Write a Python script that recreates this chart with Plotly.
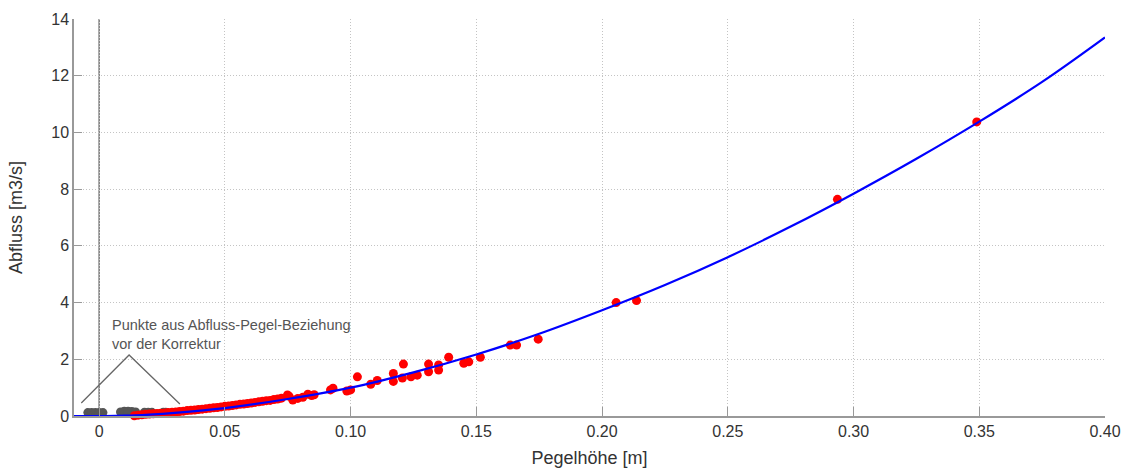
import plotly.graph_objects as go

# Fitted rating curve
curve_h = [-0.01, 0.0, 0.01, 0.02, 0.03, 0.05, 0.075, 0.10, 0.125, 0.15, 0.175, 0.20, 0.225, 0.25, 0.275, 0.30, 0.325, 0.35, 0.375, 0.40]
curve_q = [0.0, 0.0, 0.01, 0.05, 0.11, 0.28, 0.60, 1.00, 1.54, 2.17, 2.90, 3.73, 4.62, 5.60, 6.68, 7.84, 9.07, 10.38, 11.78, 13.35]

# Measured points (after correction)
red_h = [0.0140, 0.0155, 0.0170, 0.0185, 0.0200, 0.0215, 0.0230, 0.0245, 0.0260, 0.0275,
         0.0290, 0.0305, 0.0320, 0.0335, 0.0350, 0.0365, 0.0380, 0.0395, 0.0410, 0.0425,
         0.0440, 0.0455, 0.0470, 0.0485, 0.0500, 0.0515, 0.0530, 0.0545, 0.0560, 0.0575,
         0.0590, 0.0605, 0.0620, 0.0635, 0.0650, 0.0665, 0.0680, 0.0695, 0.0710, 0.0725,
         0.0749, 0.0755, 0.0770, 0.0790, 0.0810, 0.0830, 0.0845, 0.0855, 0.0920, 0.0930,
         0.0985, 0.1000, 0.1027, 0.1080, 0.1106, 0.1170, 0.1170, 0.1210, 0.1206, 0.1240,
         0.1265, 0.1310, 0.1310, 0.1350, 0.1350, 0.1390, 0.1450, 0.1470, 0.1516, 0.1635,
         0.1660, 0.1746, 0.2056, 0.2137, 0.2936, 0.3490]
red_q = [0.01, 0.03, 0.04, 0.06, 0.07, 0.08, 0.09, 0.10, 0.11, 0.12,
         0.13, 0.14, 0.16, 0.17, 0.19, 0.20, 0.21, 0.23, 0.24, 0.26,
         0.27, 0.29, 0.30, 0.32, 0.34, 0.35, 0.37, 0.39, 0.41, 0.42,
         0.44, 0.46, 0.48, 0.50, 0.52, 0.54, 0.55, 0.58, 0.60, 0.63,
         0.74, 0.70, 0.56, 0.62, 0.66, 0.77, 0.72, 0.75, 0.92, 0.98,
         0.88, 0.92, 1.38, 1.12, 1.25, 1.50, 1.22, 1.83, 1.34, 1.38,
         1.44, 1.83, 1.56, 1.80, 1.62, 2.07, 1.86, 1.91, 2.07, 2.50,
         2.50, 2.71, 4.00, 4.07, 7.64, 10.37]

# Points before correction
gray_h = [-0.0045, -0.0030, -0.0015, 0.0000, 0.0015, 0.0055, 0.0085, 0.0100, 0.0115, 0.0130, 0.0145, 0.0180, 0.0195, 0.0210, 0.0255, 0.0265]
gray_q = [0.12, 0.12, 0.12, 0.12, 0.12, -0.02, 0.14, 0.17, 0.17, 0.16, 0.14, 0.13, 0.13, 0.13, 0.13, 0.13]

x_ticks = [0, 0.05, 0.10, 0.15, 0.20, 0.25, 0.30, 0.35, 0.40]
x_labels = ["0", "0.05", "0.10", "0.15", "0.20", "0.25", "0.30", "0.35", "0.40"]
y_ticks = [0, 2, 4, 6, 8, 10, 12, 14]

annot_text = "Punkte aus Abfluss-Pegel-Beziehung<br>vor der Korrektur"
annot_line_h = [-0.0071, 0.0119, 0.0321]
annot_line_q = [0.46, 2.15, 0.42]

FONT = "Arial, 'Liberation Sans', sans-serif"

fig = go.Figure()
fig.add_trace(go.Scatter(x=gray_h, y=gray_q, mode="markers",
                         marker=dict(color="#555555", size=9), cliponaxis=False, showlegend=False))
fig.add_trace(go.Scatter(x=red_h, y=red_q, mode="markers",
                         marker=dict(color="#ff0000", size=9), cliponaxis=False, showlegend=False))
fig.add_trace(go.Scatter(x=curve_h, y=curve_q, mode="lines", line=dict(color="#0000ff", width=2.2, shape="spline"),
                         showlegend=False))
fig.add_trace(go.Scatter(x=annot_line_h, y=annot_line_q, mode="lines",
                         line=dict(color="#666666", width=1.3), showlegend=False))

fig.add_shape(type="line", xref="x", yref="y", x0=0, x1=0, y0=0, y1=14,
              line=dict(color="#808080", width=1.6), layer="below")

fig.add_annotation(x=0.0045, y=2.88, xref="x", yref="y", text=annot_text, showarrow=False,
                   xanchor="left", yanchor="middle", align="left",
                   font=dict(family=FONT, size=14.5, color="#555555"))

fig.update_layout(
    width=1126, height=472,
    margin=dict(l=74, r=21, t=19, b=56, autoexpand=False),
    plot_bgcolor="white", paper_bgcolor="white",
    font=dict(family=FONT, color="#333333"),
    xaxis=dict(range=[-0.01, 0.40], tickvals=x_ticks, ticktext=x_labels, automargin=False,
               showgrid=True, gridcolor="#c4c4c4", griddash="1px,2px", gridwidth=1,
               zeroline=False, showline=True, linecolor="#999999", linewidth=1.5,
               ticks="inside", ticklen=9, tickcolor="#999999",
               tickfont=dict(size=16, color="#333333"),
               title=dict(text="Pegelhöhe [m]", font=dict(size=18, color="#333333"), standoff=12)),
    yaxis=dict(range=[0, 14], tickvals=y_ticks, automargin=False,
               showgrid=True, gridcolor="#c4c4c4", griddash="1px,2px", gridwidth=1,
               zeroline=False, showline=True, linecolor="#999999", linewidth=1.5,
               ticks="inside", ticklen=8, tickcolor="#999999",
               tickfont=dict(size=16, color="#333333"),
               title=dict(text="Abfluss [m3/s]", font=dict(size=18, color="#333333"), standoff=24)),
)

fig.write_html("out.html")
